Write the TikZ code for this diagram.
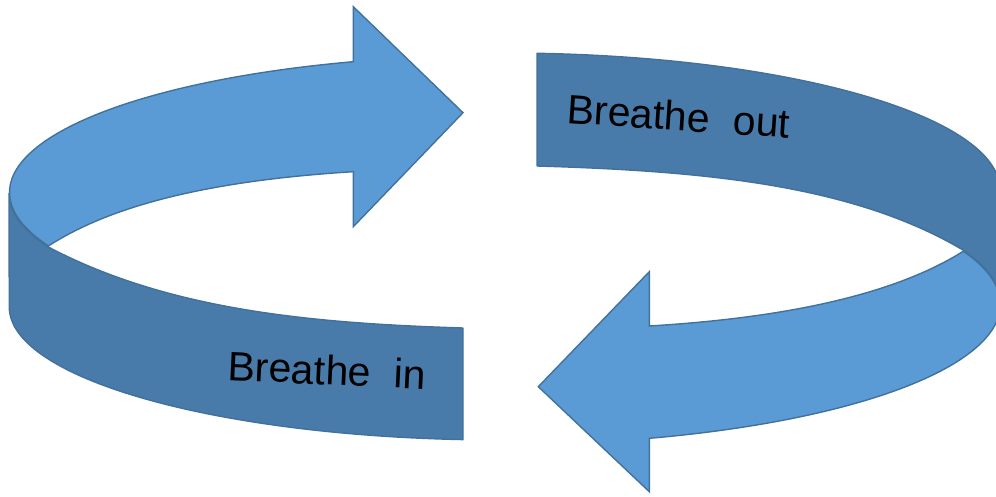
\documentclass[tikz,border=0pt]{standalone}
\usepackage{fontspec}
\setmainfont{Liberation Sans}
\definecolor{lightblue}{RGB}{91,155,213}
\definecolor{darkblue}{RGB}{72,123,170}
\definecolor{edgeblue}{RGB}{65,113,156}
\begin{document}
\begin{tikzpicture}[x=1pt,y=1pt,
  ribbon/.style={draw=edgeblue, line width=1.4pt, line join=round},
  lightarrow/.style={ribbon, fill=lightblue, line join=miter},
  darkband/.style={ribbon, fill=darkblue},
  lbl/.style={inner sep=0pt, text=black, font=\fontsize{41}{49}\selectfont}]
\useasboundingbox (0,0) rectangle (996,496);
\clip (0,0) rectangle (996,496);
% left dark band (Breathe in)
\path[darkband] (9,302.7) arc[start angle=180, end angle=203, x radius=490.5, y radius=137]
  .. controls (169,185.4) and (313,172.7) .. (463,168)
  -- (463,56.4) arc[start angle=265.7, end angle=180, x radius=490.5, y radius=133] -- cycle;
% left light arrow
\path[lightarrow] (353.3,324.3) -- (353.3,269.3) -- (463,383.3) -- (353.3,489.3) -- (353.3,434.3)
  arc[start angle=107.4, end angle=203, x radius=490.5, y radius=137]
  .. controls (109,289) and (203.3,315) .. (353.3,324.3) -- cycle;
% right dark band (Breathe out)
\path[darkband] (537,442.7) -- (537,330) .. controls (707,324.9) and (853,310.9) .. (963,246)
  arc[start angle=22.3, end angle=0, x radius=495, y radius=140]
  -- (1000,306) arc[start angle=0, end angle=86.3, x radius=495, y radius=137] -- cycle;
% right light arrow
\path[lightarrow] (649.3,170) -- (649.3,224.3) -- (538.3,109.3) -- (649.3,4.3) -- (649.3,57.7)
  arc[start angle=286.9, end angle=382.3, x radius=495, y radius=140]
  .. controls (900,205) and (799,179) .. (649.3,170) -- cycle;
% labels
\node[lbl, anchor=base west, rotate=-2.7] (tin) at (227,116) {Breathe\hspace{23pt}in};
\node[lbl, anchor=base west, rotate=-3.8] (tout) at (566,373) {Breathe\hspace{23pt}out};
\end{tikzpicture}
\end{document}
